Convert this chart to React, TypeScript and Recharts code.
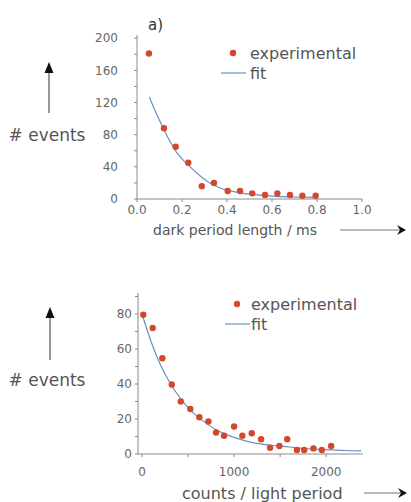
import { ComposedChart, Scatter, Line, XAxis, YAxis, Legend } from "recharts";

// panel a) dark period lengths
const darkLength = [0.053, 0.12, 0.172, 0.228, 0.288, 0.342, 0.403, 0.458, 0.512, 0.569, 0.624, 0.68, 0.735, 0.794];
const darkEvents = [181, 88, 65, 45, 16, 20, 10, 10, 7, 5, 7, 5, 4, 4];
const darkFitLength = [0.055, 0.08, 0.117, 0.15, 0.176, 0.2, 0.236, 0.28, 0.324, 0.36, 0.4, 0.45, 0.5, 0.6, 0.7, 0.8];
const darkFitEvents = [127, 110, 88, 70, 58, 50, 40, 29, 20, 15, 11, 8, 6, 3.5, 2.5, 2];
const darkTicksX = [0, 0.2, 0.4, 0.6, 0.8, 1.0];
const darkTicksY = [0, 20, 40, 60, 80, 100, 120, 140, 160, 180, 200];

// panel b) counts per light period
const lightCounts = [14, 116, 221, 323, 421, 525, 623, 721, 804, 891, 1000, 1090, 1192, 1293, 1391, 1492, 1577, 1682, 1761, 1862, 1953, 2054];
const lightEvents = [79.6, 72, 54.7, 39.7, 30, 25.7, 21, 18.6, 12.3, 10.4, 15.7, 10.4, 11.9, 8.4, 3.6, 4.6, 8.4, 2.3, 2.3, 3.2, 2.3, 4.6];
const lightFitCounts = [0, 100, 200, 300, 400, 500, 600, 700, 800, 900, 1000, 1200, 1400, 1600, 1800, 2000, 2200, 2380];
const lightFitEvents = [80, 64, 51, 41, 33, 26.5, 21.5, 17.5, 14, 11.5, 9.5, 6.5, 5, 4, 3, 2.5, 2, 1.8];
const lightTicksX = [0, 500, 1000, 1500, 2000];
const lightTicksY = [0, 10, 20, 30, 40, 50, 60, 70, 80, 90];

const FONT = "'DejaVu Sans', sans-serif";
const RED = "#d4472c";
const BLUE = "#6a8fc4";
const AXIS = "#8a8a8a";
const TEXT = "#555";

const darkData = darkLength.map((x, i) => ({ x, events: darkEvents[i] }));
const darkFit = darkFitLength.map((x, i) => ({ x, events: darkFitEvents[i] }));
const lightData = lightCounts.map((x, i) => ({ x, events: lightEvents[i] }));
const lightFit = lightFitCounts.map((x, i) => ({ x, events: lightFitEvents[i] }));

function Dot(props: any) {
  const { cx, cy } = props;
  if (cx == null || cy == null) return <g />;
  return <circle cx={cx} cy={cy} r={3.2} fill={RED} />;
}

function makeYTick(every: number) {
  return (props: any) => {
    const { x, y, payload } = props;
    if (payload.value % every !== 0) return <g />;
    return (
      <text x={x} y={y} dy="0.35em" textAnchor="end" fontSize={12} fill="#666" fontFamily={FONT}>
        {payload.value}
      </text>
    );
  };
}

function makeXTick(every: number, fmt: (v: number) => string) {
  return (props: any) => {
    const { x, y, payload } = props;
    if (Math.round(payload.value * 1000) % Math.round(every * 1000) !== 0) return <g />;
    return (
      <text x={x} y={y} dy="0.71em" textAnchor="middle" fontSize={12} fill="#666" fontFamily={FONT}>
        {fmt(payload.value)}
      </text>
    );
  };
}

function LegendBox({ gap }: { gap: number }) {
  return (
    <svg width={150} height={42}>
      <circle cx={18} cy={10} r={3.2} fill={RED} />
      <text x={18 + gap} y={10} dy="0.35em" fontSize={16} fill={TEXT} fontFamily={FONT}>
        experimental
      </text>
      <line x1={6} x2={31} y1={30} y2={30} stroke={BLUE} strokeWidth={1.2} />
      <text x={18 + gap} y={30} dy="0.35em" fontSize={16} fill={TEXT} fontFamily={FONT}>
        fit
      </text>
    </svg>
  );
}

function UpArrow({ x, top, bottom }: { x: number; top: number; bottom: number }) {
  return (
    <g>
      <line x1={x} x2={x} y1={bottom} y2={top + 8} stroke="#777" strokeWidth={1.5} />
      <polygon points={`${x},${top} ${x - 4.5},${top + 11} ${x + 4.5},${top + 11}`} fill="#111" />
    </g>
  );
}

function RightArrow({ x1, x2, y }: { x1: number; x2: number; y: number }) {
  return (
    <g>
      <line x1={x1} x2={x2 - 6} y1={y} y2={y} stroke="#777" strokeWidth={1.2} />
      <polygon points={`${x2},${y} ${x2 - 9},${y - 5} ${x2 - 6},${y} ${x2 - 9},${y + 5}`} fill="#111" />
    </g>
  );
}

export default function App() {
  return (
    <div style={{ position: "absolute", left: 0, top: 0, width: 411, height: 502, background: "#fff", overflow: "hidden" }}>
      <div style={{ position: "absolute", left: 0, top: 0 }}>
        <ComposedChart width={411} height={250} margin={{ top: 35, right: 49, bottom: 21, left: 97 }}>
          <XAxis
            dataKey="x"
            type="number"
            domain={[0, 1]}
            ticks={darkTicksX}
            interval={0}
            tickSize={3}
            tickMargin={3}
            height={30}
            stroke={AXIS}
            tick={makeXTick(0.2, (v) => v.toFixed(1))}
          />
          <YAxis
            type="number"
            domain={[0, 204]}
            ticks={darkTicksY}
            interval={0}
            tickSize={3}
            tickMargin={16}
            width={40}
            stroke={AXIS}
            tick={makeYTick(40)}
          />
          <Legend
            layout="vertical"
            align="center"
            verticalAlign="middle"
            content={() => <LegendBox gap={17} />}
            wrapperStyle={{ position: "absolute", left: 215, top: 43, width: 150, height: 42 }}
          />
          <Line data={darkFit} dataKey="events" name="fit" type="monotone" stroke={BLUE} strokeWidth={1.2} dot={false} isAnimationActive={false} />
          <Scatter data={darkData} dataKey="events" name="experimental" fill={RED} shape={<Dot />} isAnimationActive={false} />
        </ComposedChart>
      </div>
      <div style={{ position: "absolute", left: 0, top: 250 }}>
        <ComposedChart width={411} height={252} margin={{ top: 43, right: 48, bottom: 18, left: 98 }}>
          <XAxis
            dataKey="x"
            type="number"
            domain={[0, 2400]}
            ticks={lightTicksX}
            interval={0}
            padding={{ left: 4, right: 0 }}
            tickSize={3}
            tickMargin={10}
            height={30}
            stroke={AXIS}
            tick={makeXTick(1000, (v) => String(v))}
          />
          <YAxis
            type="number"
            domain={[0, 92]}
            ticks={lightTicksY}
            interval={0}
            tickSize={3}
            tickMargin={3}
            width={40}
            stroke={AXIS}
            tick={makeYTick(20)}
          />
          <Legend
            layout="vertical"
            align="center"
            verticalAlign="middle"
            content={() => <LegendBox gap={14} />}
            wrapperStyle={{ position: "absolute", left: 219, top: 44, width: 150, height: 42 }}
          />
          <Line data={lightFit} dataKey="events" name="fit" type="monotone" stroke={BLUE} strokeWidth={1.2} dot={false} isAnimationActive={false} />
          <Scatter data={lightData} dataKey="events" name="experimental" fill={RED} shape={<Dot />} isAnimationActive={false} />
        </ComposedChart>
      </div>
      <svg width={411} height={502} style={{ position: "absolute", left: 0, top: 0, pointerEvents: "none" }}>
        <text x={148} y={25} dy="0.35em" fontSize={15} fill="#333" fontFamily={FONT}>a)</text>
        <UpArrow x={49} top={62} bottom={113} />
        <text x={47} y={135} dy="0.35em" textAnchor="middle" fontSize={17} fill={TEXT} fontFamily={FONT}># events</text>
        <text x={153} y={230} dy="0.35em" fontSize={14} fill={TEXT} fontFamily={FONT}>dark period length / ms</text>
        <RightArrow x1={340} x2={406} y={230} />
        <UpArrow x={50} top={307} bottom={360} />
        <text x={47} y={380} dy="0.35em" textAnchor="middle" fontSize={17} fill={TEXT} fontFamily={FONT}># events</text>
        <text x={182} y={493} dy="0.35em" fontSize={16} fill={TEXT} fontFamily={FONT}>counts / light period</text>
        <RightArrow x1={364} x2={407} y={493} />
      </svg>
    </div>
  );
}
